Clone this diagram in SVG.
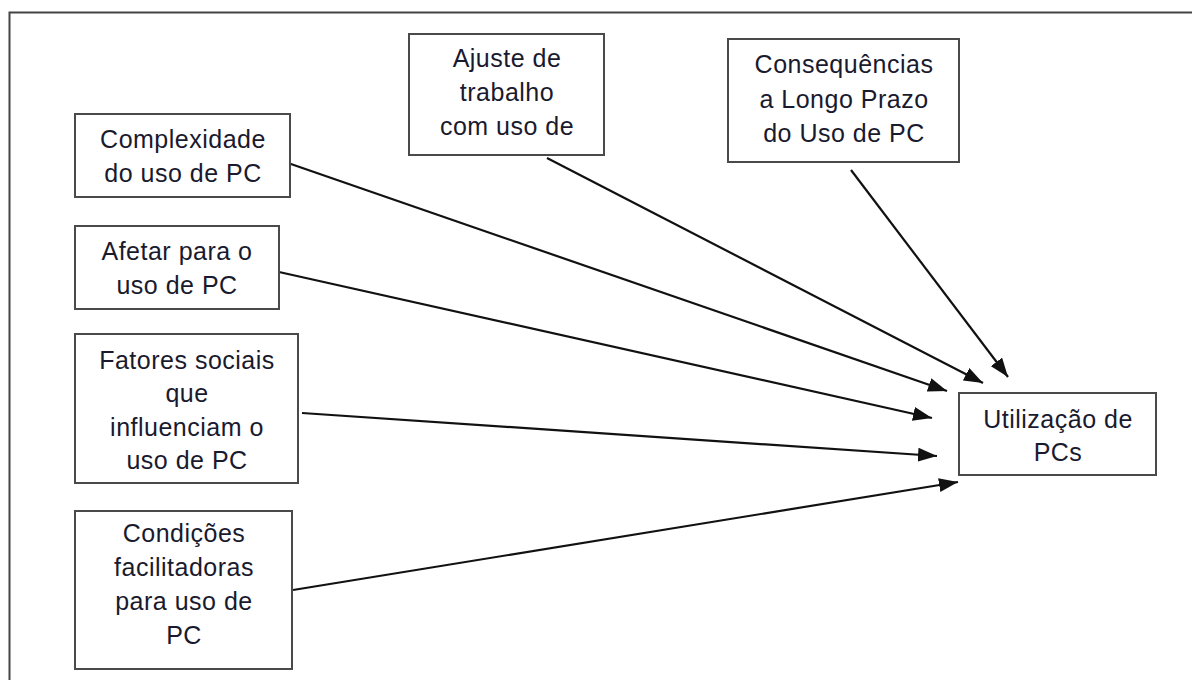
<svg xmlns="http://www.w3.org/2000/svg" width="1192" height="680" viewBox="0 0 1192 680">
<style>
.box{fill:#fff;stroke:#4a4a4a;stroke-width:2}
.t{font-family:"Liberation Sans",Arial,sans-serif;font-size:25px;letter-spacing:0.5px;fill:#1a1a2e;text-anchor:middle}
.c{stroke:#111;stroke-width:2.2;fill:none;marker-end:url(#ah)}
</style>
<defs>
<marker id="ah" viewBox="0 0 10 10" refX="10" refY="5" markerWidth="19" markerHeight="14" markerUnits="userSpaceOnUse" orient="auto" preserveAspectRatio="none">
<path d="M0,0 L10,5 L0,10 z" fill="#111"/>
</marker>
</defs>
<rect width="1192" height="680" fill="#fff"/>
<path d="M9.5,680 V12.5 H1192" fill="none" stroke="#444" stroke-width="2"/>
<g id="connectors">
<line class="c" x1="288" y1="163" x2="947" y2="391"/>
<line class="c" x1="279" y1="272" x2="932" y2="418"/>
<line class="c" x1="302" y1="413" x2="937" y2="456"/>
<line class="c" x1="293" y1="590" x2="958" y2="482"/>
<line class="c" x1="547" y1="158" x2="983" y2="383"/>
<line class="c" x1="851" y1="170" x2="1008" y2="377"/>
</g>
<g id="complexidade">
<rect class="box" x="75" y="114" width="215" height="83"/>
<text class="t" x="183" y="148">Complexidade</text>
<text class="t" x="183" y="182">do uso de PC</text>
</g>
<g id="afetar">
<rect class="box" x="75" y="226" width="204" height="83"/>
<text class="t" x="177" y="260">Afetar para o</text>
<text class="t" x="177" y="294">uso de PC</text>
</g>
<g id="fatores">
<rect class="box" x="75" y="334" width="223" height="149"/>
<text class="t" x="187" y="369">Fatores sociais</text>
<text class="t" x="187" y="402">que</text>
<text class="t" x="187" y="436">influenciam o</text>
<text class="t" x="187" y="469">uso de PC</text>
</g>
<g id="condicoes">
<rect class="box" x="75" y="511" width="217" height="158"/>
<text class="t" x="184" y="542">Condições</text>
<text class="t" x="184" y="576">facilitadoras</text>
<text class="t" x="184" y="610">para uso de</text>
<text class="t" x="184" y="644">PC</text>
</g>
<g id="ajuste">
<rect class="box" x="409" y="34" width="195" height="121"/>
<text class="t" x="507" y="67">Ajuste de</text>
<text class="t" x="507" y="101">trabalho</text>
<text class="t" x="507" y="135">com uso de</text>
</g>
<g id="consequencias">
<rect class="box" x="728" y="39" width="231" height="123"/>
<text class="t" x="844" y="73">Consequências</text>
<text class="t" x="844" y="108">a Longo Prazo</text>
<text class="t" x="844" y="142">do Uso de PC</text>
</g>
<g id="utilizacao">
<rect class="box" x="959" y="393" width="197" height="82"/>
<text class="t" x="1058" y="428">Utilização de</text>
<text class="t" x="1058" y="461">PCs</text>
</g>
</svg>
